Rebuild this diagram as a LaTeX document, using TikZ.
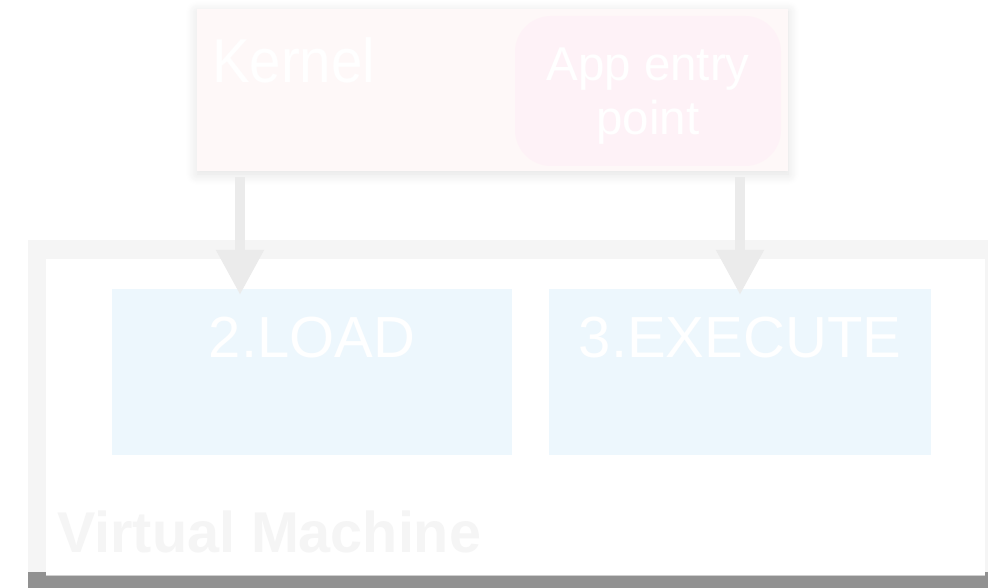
\documentclass[tikz,border=0pt]{standalone}
\usepackage{fontspec}
\setmainfont{Liberation Sans}
\usetikzlibrary{arrows.meta,shadows.blur}
\definecolor{framegray}{HTML}{F5F5F5}
\definecolor{banddark}{HTML}{919191}
\definecolor{kernelfill}{HTML}{FEF8F8}
\definecolor{appfill}{HTML}{FEF2F7}
\definecolor{stagefill}{HTML}{EDF7FD}
\definecolor{arrowgray}{HTML}{EBEBEB}
\definecolor{vmtext}{HTML}{F5F5F5}
\definecolor{edgegray}{HTML}{CFCFCF}
\begin{document}
\begin{tikzpicture}[x=1pt,y=-1pt,
  box/.style={anchor=north west, inner sep=0pt, outer sep=0pt, draw=none},
  stagebox/.style={box, fill=stagefill},
  stagetext/.style={text=white, inner sep=0pt, anchor=base, font=\fontsize{58}{70}\selectfont},
  flow/.style={draw=arrowgray, line width=10.7pt,
    -{Triangle[width=45pt,length=45pt,fill=arrowgray]}}
]
\useasboundingbox (0,0) rectangle (988,588);

% virtual machine frame
\node[box, fill=framegray, minimum width=960pt, minimum height=348pt] (vmframe) at (28,240) {};
\node[box, fill=banddark, minimum width=960pt, minimum height=16pt] (vmband) at (28,572) {};
\node[box, fill=white, minimum width=939pt, minimum height=316pt] (vminner) at (46,259) {};
\draw[edgegray, line width=0.8pt] (vminner.south west) -- (vminner.south east);
\node[anchor=base west, inner sep=0pt, text=vmtext,
  font=\fontsize{57.5}{69}\selectfont\bfseries] (vmlabel) at (57,552) {Virtual Machine};

% stages
\node[stagebox, minimum width=400pt, minimum height=166pt] (load) at (112,289) {};
\node[stagebox, minimum width=382pt, minimum height=166pt] (exec) at (549,289) {};
\node[stagetext] (loadtext) at (312,357.5) {2.LOAD};
\node[stagetext] (exectext) at (740,357.5) {3.EXECUTE};

% kernel
\node[box, fill=kernelfill, minimum width=591pt, minimum height=162pt,
  blur shadow={shadow xshift=0pt, shadow yshift=-3pt, shadow blur radius=11pt,
    shadow blur steps=12, shadow opacity=12}]
  (kernel) at (197,9) {};
\node[anchor=base west, inner sep=0pt, text=white,
  font=\fontsize{62}{74}\selectfont] (kerneltext) at (212,83) {\scalebox{0.91}[1]{Kernel}};
\node[box, fill=appfill, rounded corners=36pt, minimum width=266pt, minimum height=150pt]
  (app) at (515,16) {};
\node[text=white, inner sep=0pt, align=center,
  font=\fontsize{47.5}{54}\selectfont] (apptext) at (648,96) {App entry\\point};

% flows from the kernel into the stages
\coordinate (loadx) at (240,0);
\coordinate (execx) at (740,0);
\draw[flow] ([yshift=-6pt]kernel.south -| loadx) -- ([yshift=-6pt]load.north -| loadx);
\draw[flow] ([yshift=-6pt]kernel.south -| execx) -- ([yshift=-6pt]exec.north -| execx);
\end{tikzpicture}
\end{document}
